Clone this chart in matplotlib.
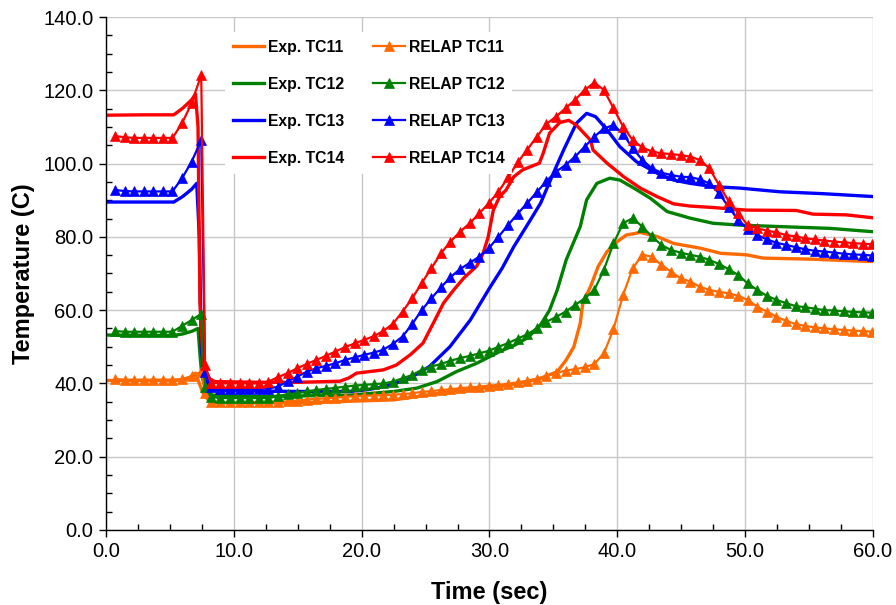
import matplotlib.pyplot as plt
from matplotlib.ticker import MultipleLocator, FormatStrFormatter

plt.rcParams['font.family'] = ['Liberation Sans', 'DejaVu Sans']

# RELAP output times (s)
t_relap = [0.7, 1.45, 2.2, 2.95, 3.7, 4.45, 5.2, 5.95, 6.7, 7.45,
           7.75,
           8.2, 8.95, 9.7, 10.45, 11.2, 11.95, 12.7, 13.45, 14.2, 14.95,
           15.7, 16.45, 17.2, 17.95, 18.7, 19.45, 20.2, 20.95, 21.7, 22.45,
           23.2, 23.95, 24.7, 25.45, 26.2, 26.95, 27.7, 28.45, 29.2, 29.95,
           30.7, 31.45, 32.2, 32.95, 33.7, 34.45, 35.2, 35.95, 36.7, 37.45,
           38.2, 38.95, 39.7, 40.45, 41.2, 41.95, 42.7, 43.45, 44.2, 44.95,
           45.7, 46.45, 47.2, 47.95, 48.7, 49.45, 50.2, 50.95, 51.7, 52.45,
           53.2, 53.95, 54.7, 55.45, 56.2, 56.95, 57.7, 58.45, 59.2, 59.95]

relap_tc11 = [41.2, 41.0, 41.0, 41.0, 41.0, 41.0, 41.0, 41.2, 42.0, 43.2,
              37.5,
              35.0, 34.9, 34.9, 34.9, 34.9, 34.9, 35.0, 35.0, 35.1, 35.3,
              35.6, 35.8, 35.9, 36.1, 36.3, 36.5, 36.6, 36.7, 36.8, 36.9,
              37.1, 37.3, 37.7, 37.9, 38.2, 38.4, 38.7, 38.9, 39.1, 39.4,
              39.6, 39.9, 40.3, 40.7, 41.3, 42.0, 42.8, 43.5, 43.9, 44.4,
              45.3, 48.2, 54.8, 64.1, 71.4, 75.1, 74.6, 72.3, 70.5, 68.7,
              67.8, 66.4, 65.5, 65.0, 64.6, 63.9, 62.8, 60.9, 59.6, 58.2,
              57.1, 56.2, 55.7, 55.3, 55.0, 54.8, 54.6, 54.4, 54.3, 54.1]

relap_tc12 = [54.3, 54.1, 54.1, 54.1, 54.1, 54.1, 54.1, 55.7, 57.3, 59.0,
              39.0,
              36.3, 36.0, 36.0, 36.0, 36.0, 36.0, 36.0, 36.5, 37.1, 37.3,
              37.8, 38.2, 38.5, 38.8, 39.1, 39.4, 39.6, 39.8, 40.0, 40.5,
              41.4, 42.3, 43.7, 44.6, 45.3, 46.2, 46.9, 47.5, 48.2, 48.9,
              50.0, 51.0, 52.2, 53.4, 55.0, 56.8, 58.1, 59.6, 61.4, 63.2,
              65.5, 71.0, 78.2, 83.7, 85.1, 82.8, 80.1, 77.8, 76.4, 75.7,
              75.1, 74.6, 73.7, 72.6, 71.2, 69.6, 67.3, 65.5, 63.9, 62.8,
              61.9, 61.1, 60.8, 60.4, 60.0, 59.9, 59.7, 59.5, 59.4, 59.3]

relap_tc13 = [92.8, 92.5, 92.4, 92.4, 92.4, 92.4, 92.4, 96.0, 100.5, 106.4,
              43.0,
              39.0, 38.6, 38.6, 38.5, 38.5, 38.5, 38.6, 39.1, 40.6, 41.8,
              43.2, 44.1, 44.8, 45.5, 46.4, 47.1, 47.8, 48.4, 49.2, 50.8,
              52.8, 56.2, 60.0, 63.2, 66.2, 69.0, 71.2, 72.9, 74.6, 76.9,
              80.0, 83.2, 86.3, 89.2, 92.2, 95.2, 97.8, 99.6, 101.9, 104.6,
              107.3, 109.6, 110.5, 108.1, 104.2, 101.0, 98.7, 97.5, 96.9, 96.4,
              96.3, 95.7, 94.6, 91.9, 88.2, 84.6, 82.1, 80.5, 79.3, 78.4,
              77.8, 77.2, 76.6, 76.2, 76.0, 75.7, 75.4, 75.2, 75.1, 74.9]

relap_tc14 = [107.5, 107.2, 107.0, 107.0, 107.0, 107.0, 107.0, 111.0, 116.5, 124.2,
              45.0,
              40.2, 40.0, 40.0, 40.0, 40.0, 40.0, 40.5, 41.7, 42.8, 44.1,
              45.3, 46.4, 47.5, 48.7, 49.9, 50.9, 51.9, 52.9, 54.3, 56.3,
              59.6, 63.2, 67.4, 71.4, 75.5, 78.7, 81.4, 83.7, 86.4, 89.2,
              92.3, 96.2, 100.3, 103.8, 107.3, 110.8, 112.8, 115.1, 117.4, 120.1,
              122.1, 120.1, 115.1, 110.1, 106.4, 104.4, 103.3, 102.8, 102.6, 102.3,
              101.9, 101.0, 98.7, 94.2, 89.8, 86.5, 83.2, 82.3, 81.7, 81.2,
              80.5, 80.1, 79.6, 79.3, 79.0, 78.7, 78.5, 78.3, 78.1, 78.0]

# Experimental thermocouple traces
exp_tc11_t = [0, 5.3, 6.3, 7.0, 7.3, 7.6, 8.0, 8.5, 15, 22.5, 24.3, 26.9, 29.5,
              30.7, 33.0, 34.0, 35.3, 36.0, 36.6, 37.1, 37.3, 37.9, 38.5, 39.2,
              40.0, 40.7, 41.8, 43.1, 44.4, 46.5, 48.1, 50.1, 51.4, 55.3, 59.5, 60]
exp_tc11 = [40.8, 40.8, 41.0, 42.8, 40.0, 37.3, 35.5, 34.7, 34.7, 35.5, 36.4, 37.8, 38.7,
            39.1, 40.5, 41.4, 43.2, 46.4, 50.0, 56.4, 61.9, 66.4, 71.9, 76.0,
            78.7, 80.5, 81.2, 80.1, 78.2, 76.9, 75.5, 75.1, 74.2, 73.9, 73.3, 73.3]

exp_tc12_t = [0, 5.3, 6.0, 6.7, 7.2, 7.35, 7.5, 7.8, 8.3, 12, 19.1, 22.5, 24.3,
              25.9, 27.4, 29.0, 30.8, 32.0, 33.0, 34.0, 34.7, 35.3, 36.0, 37.1,
              37.6, 38.4, 39.4, 40.2, 41.3, 42.6, 43.9, 45.7, 47.5, 49.6, 52.7,
              56.7, 60]
exp_tc12 = [53.2, 53.1, 53.5, 54.2, 55.0, 48.0, 42.0, 38.5, 36.8, 36.4, 36.8, 37.8, 38.7,
            40.5, 43.2, 45.5, 48.7, 50.5, 52.5, 56.0, 60.0, 65.5, 73.7, 82.8,
            90.1, 94.6, 96.0, 95.5, 93.3, 90.5, 86.9, 85.1, 83.7, 83.2, 82.8,
            82.3, 81.4]

exp_tc13_t = [0, 5.3, 6.0, 6.7, 7.1, 7.3, 7.45, 7.7, 8.2, 9, 15, 19.1, 20.5,
              21.7, 23.5, 25.3, 26.9, 28.5, 30.0, 31.0, 31.9, 33.2, 34.0, 35.0,
              35.8, 36.8, 37.6, 38.3, 39.2, 40.2, 41.5, 43.1, 44.4, 45.7, 47.5,
              49.6, 52.7, 56, 60]
exp_tc13 = [89.5, 89.5, 91.0, 93.0, 94.6, 80.0, 50.0, 42.0, 38.5, 38.0, 37.8, 37.8, 38.3,
            39.1, 40.9, 44.6, 50.0, 57.3, 66.0, 71.5, 77.3, 84.6, 89.2, 97.4,
            103.7, 111.0, 113.7, 112.8, 109.2, 104.6, 100.5, 97.4, 95.5, 94.6, 93.7,
            93.3, 92.3, 91.8, 91.0]

exp_tc14_t = [0, 3, 5.3, 6.0, 6.7, 7.0, 7.2, 7.35, 7.6, 8.0, 8.5, 12, 15, 18.3,
              19.0, 19.6, 21.0, 21.7, 22.7, 23.8, 24.8, 25.6, 26.4, 27.2, 28.0,
              29.0, 29.5, 29.9, 30.3, 30.8, 31.3, 31.9, 32.6, 33.9, 34.2, 34.7,
              35.5, 36.2, 36.8, 37.9, 38.1, 39.2, 40.5, 41.8, 43.1, 44.4, 45.7,
              47.5, 50.1, 54.0, 55.3, 57.9, 60]
exp_tc14 = [113.2, 113.3, 113.3, 115.1, 117.4, 119.0, 110.0, 62.0, 45.5, 41.5, 40.5, 40.3, 40.3, 40.6,
            41.5, 42.8, 43.4, 43.7, 45.0, 47.8, 51.0, 56.4, 61.9, 65.5, 68.8,
            72.0, 75.5, 80.0, 87.3, 91.0, 92.8, 96.4, 98.3, 100.1, 102.8, 108.3,
            111.2, 111.8, 110.5, 106.4, 103.7, 100.1, 96.4, 93.3, 91.0, 89.0, 88.4,
            88.0, 87.3, 87.2, 86.2, 86.0, 85.2]

c11, c12, c13, c14 = '#ff6a00', '#008000', '#0000ff', '#ff0000'

fig = plt.figure(figsize=(8.96, 6.05), dpi=100)
ax = fig.add_axes([0.1183, 0.124, 0.856, 0.8479])

exp_kw = dict(lw=2.4, solid_joinstyle='round')
ax.plot(exp_tc11_t, exp_tc11, color=c11, label='Exp. TC11', **exp_kw)
ax.plot(exp_tc12_t, exp_tc12, color=c12, label='Exp. TC12', **exp_kw)
ax.plot(exp_tc13_t, exp_tc13, color=c13, label='Exp. TC13', **exp_kw)
ax.plot(exp_tc14_t, exp_tc14, color=c14, label='Exp. TC14', **exp_kw)

rel_kw = dict(lw=1.6, marker='^', markersize=6.5, markeredgewidth=0.5)
ax.plot(t_relap, relap_tc11, color=c11, label='RELAP TC11', **rel_kw)
ax.plot(t_relap, relap_tc12, color=c12, label='RELAP TC12', **rel_kw)
ax.plot(t_relap, relap_tc13, color=c13, label='RELAP TC13', **rel_kw)
ax.plot(t_relap, relap_tc14, color=c14, label='RELAP TC14', **rel_kw)

ax.set_xlim(0, 60)
ax.set_ylim(0, 140)
ax.xaxis.set_major_locator(MultipleLocator(10))
ax.xaxis.set_minor_locator(MultipleLocator(2.5))
ax.yaxis.set_major_locator(MultipleLocator(20))
ax.yaxis.set_minor_locator(MultipleLocator(5))
ax.xaxis.set_major_formatter(FormatStrFormatter('%.1f'))
ax.yaxis.set_major_formatter(FormatStrFormatter('%.1f'))

ax.grid(True, which='major', color='#c8c8c8', lw=1.0)
ax.set_axisbelow(True)
ax.spines['top'].set_visible(False)
ax.spines['right'].set_visible(False)
ax.spines['left'].set_linewidth(1.0)
ax.spines['bottom'].set_linewidth(1.0)

ax.tick_params(which='major', direction='out', length=5, width=1.0,
               labelsize=14.5, pad=4)
ax.tick_params(which='minor', direction='in', length=4, width=1.0)

ax.set_xlabel('Time (sec)', fontsize=17, fontweight='bold', labelpad=14)
ax.set_ylabel('Temperature (C)', fontsize=17, fontweight='bold', labelpad=6)

leg = ax.legend(ncol=2, loc='upper left', bbox_to_anchor=(0.145, 0.986),
                frameon=True, facecolor='white', edgecolor='none', framealpha=1,
                fancybox=False, prop={'weight': 'bold', 'size': 11.3},
                handlelength=2.0, handletextpad=0.25, labelspacing=1.4,
                columnspacing=1.85, borderpad=0.5)

fig.savefig('out.png', dpi=100)
